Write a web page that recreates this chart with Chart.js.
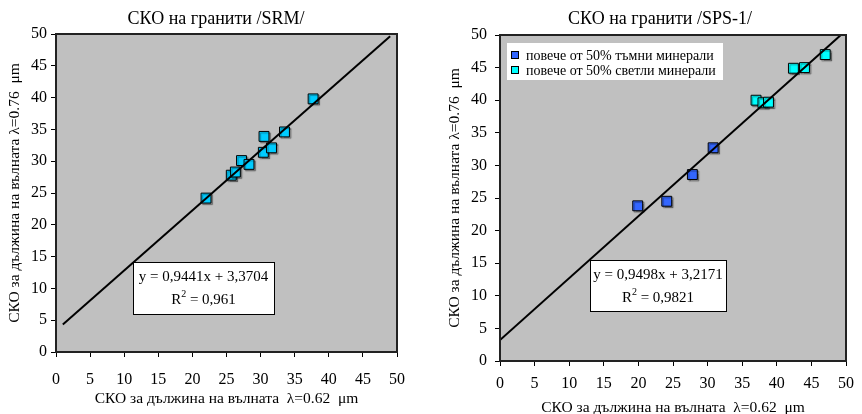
<!DOCTYPE html>
<html>
<head>
<meta charset="utf-8">
<script src="https://cdn.jsdelivr.net/npm/chart.js@4"></script>
<style>
  html, body { margin: 0; padding: 0; background: #fff; overflow: hidden; }
  .panel { position: absolute; top: 0; width: 431px; height: 414px; }
</style>
</head>
<body>
<div class="panel" style="left:0"><canvas id="srm" width="431" height="414"></canvas></div>
<div class="panel" style="left:431px"><canvas id="sps" width="431" height="414"></canvas></div>
<script>
// СКО при 0.62 µm (x) и 0.76 µm (y)
const srmX = [22.0, 25.7, 26.3, 27.2, 28.3, 30.4, 30.5, 31.6, 33.5, 37.7];
const srmY = [24.2, 27.8, 28.3, 30.1, 29.5, 31.4, 33.9, 32.1, 34.6, 39.8];

const tumniX = [19.9, 24.1, 27.8, 30.8];
const tumniY = [23.8, 24.5, 28.6, 32.7];
const svetliX = [37.0, 38.0, 38.8, 42.4, 44.0, 47.0];
const svetliY = [40.0, 39.6, 39.7, 44.9, 45.0, 47.0];

// линеен тренд: наклон, отрез, R²
const fitSrm = [0.9441, 3.3704];
const fitSps = [0.9498, 3.2171];
const r2Srm = 0.961;
const r2Sps = 0.9821;
const fitSrmRange = [1, 49];
const fitSpsRange = [0, 49.26];

const axisTicks = [0, 5, 10, 15, 20, 25, 30, 35, 40, 45, 50];

const titles = ['СКО на гранити /SRM/', 'СКО на гранити /SPS-1/'];
const xTitle = 'СКО за дължина на вълната  λ=0.62  μm';
const yTitle = 'СКО за дължина на вълната λ=0.76  μm';
const seriesNames = ['повече от 50% тъмни минерали', 'повече от 50% светли минерали'];

const SERIF = "'Times New Roman', 'Liberation Serif', serif";
Chart.defaults.font.family = SERIF;
Chart.defaults.color = '#000';

function toPoints(xs, ys) {
  return xs.map((x, i) => ({x: x, y: ys[i]}));
}

function trendPoints(fit, range) {
  return range.map(x => ({x: x, y: fit[0] * x + fit[1]}));
}

function fmt(v, d) {
  return v.toFixed(d).replace('.', ',');
}

// сив фон на графичната област + рамка + сянка на маркерите
const plotArea = {
  id: 'plotArea',
  beforeDraw(chart) {
    const {ctx, chartArea: a} = chart;
    ctx.save();
    ctx.fillStyle = '#c0c0c0';
    ctx.fillRect(a.left, a.top, a.width, a.height);
    ctx.restore();
  },
  beforeDatasetDraw(chart, args) {
    const ctx = chart.ctx;
    ctx.save();
    if (args.meta.type === 'scatter') {
      ctx.shadowColor = 'rgba(0,0,0,0.35)';
      ctx.shadowOffsetX = 1.5;
      ctx.shadowOffsetY = 1.5;
      ctx.shadowBlur = 1;
    }
  },
  afterDatasetDraw(chart) {
    chart.ctx.restore();
  },
  afterDraw(chart) {
    const {ctx, chartArea: a} = chart;
    ctx.save();
    ctx.strokeStyle = '#222';
    ctx.lineWidth = 2;
    ctx.strokeRect(a.left, a.top, a.width, a.height);
    ctx.restore();
  }
};

// заглавие над графиката
const caption = {
  id: 'caption',
  afterDraw(chart, args, opts) {
    const ctx = chart.ctx;
    ctx.save();
    ctx.font = '18px ' + SERIF;
    ctx.fillStyle = '#000';
    ctx.textAlign = 'center';
    ctx.textBaseline = 'alphabetic';
    ctx.fillText(opts.text, opts.cx, opts.y);
    ctx.restore();
  }
};

// каре с уравнението на тренда
const equationBox = {
  id: 'equationBox',
  afterDraw(chart, args, opts) {
    const {ctx, chartArea: a} = chart;
    const x = a.left + opts.dx, y = a.top + opts.dy;
    ctx.save();
    ctx.fillStyle = '#fff';
    ctx.fillRect(x, y, opts.w, opts.h);
    ctx.strokeStyle = '#000';
    ctx.lineWidth = 1;
    ctx.strokeRect(x + 0.5, y + 0.5, opts.w, opts.h);
    ctx.fillStyle = '#000';
    ctx.textBaseline = 'middle';
    ctx.font = '15px ' + SERIF;
    ctx.textAlign = 'center';
    const cx = x + opts.w / 2;
    ctx.fillText('y = ' + fmt(opts.fit[0], 4) + 'x + ' + fmt(opts.fit[1], 4), cx, y + 15);
    // R² с горен индекс
    const rest = ' = ' + String(opts.r2).replace('.', ',');
    ctx.textAlign = 'left';
    const wR = ctx.measureText('R').width;
    const wRest = ctx.measureText(rest).width;
    ctx.font = '10px ' + SERIF;
    const wSup = ctx.measureText('2').width;
    let sx = cx - (wR + wSup + wRest) / 2;
    const ly = y + 38;
    ctx.font = '15px ' + SERIF;
    ctx.fillText('R', sx, ly);
    ctx.font = '10px ' + SERIF;
    ctx.fillText('2', sx + wR, ly - 6);
    ctx.font = '15px ' + SERIF;
    ctx.fillText(rest, sx + wR + wSup, ly);
    ctx.restore();
  }
};

// легенда в горния ляв ъгъл на графичната област
const cornerLegend = {
  id: 'cornerLegend',
  afterDraw(chart, args, opts) {
    if (!opts.show) return;
    const {ctx, chartArea: a} = chart;
    ctx.save();
    ctx.fillStyle = '#fff';
    ctx.fillRect(a.left + opts.dx, a.top + opts.dy, opts.w, opts.h);
    ctx.font = '14px ' + SERIF;
    ctx.textBaseline = 'middle';
    ctx.textAlign = 'left';
    let row = 0;
    chart.data.datasets.forEach(ds => {
      if (!ds.label) return;
      const cy = a.top + opts.dy + 12 + row * 15;
      const bx = a.left + opts.dx + 4;
      ctx.fillStyle = ds.backgroundColor;
      ctx.fillRect(bx, cy - 4, 8, 8);
      ctx.strokeStyle = '#000';
      ctx.lineWidth = 1;
      ctx.strokeRect(bx + 0.5, cy - 3.5, 7, 7);
      ctx.fillStyle = '#000';
      ctx.fillText(ds.label, bx + 15, cy + 1);
      row++;
    });
    ctx.restore();
  }
};

function scatterSet(label, xs, ys, color) {
  return {
    type: 'scatter',
    label: label,
    data: toPoints(xs, ys),
    pointStyle: 'rect',
    pointRadius: 7,
    pointHoverRadius: 7,
    backgroundColor: color,
    borderColor: '#000',
    borderWidth: 1,
    order: 1
  };
}

function trendSet(fit, range) {
  return {
    type: 'line',
    data: trendPoints(fit, range),
    borderColor: '#000',
    borderWidth: 2,
    pointRadius: 0,
    fill: false,
    order: 0
  };
}

function makeChart(id, datasets, lay) {
  return new Chart(document.getElementById(id), {
    type: 'scatter',
    data: {datasets: datasets},
    options: {
      responsive: false,
      animation: false,
      layout: {padding: {right: lay.padRight, left: 0, bottom: 0, top: lay.padTop}},
      plugins: {
        legend: {display: false},
        tooltip: {enabled: false},
        title: {display: false},
        caption: lay.caption,
        equationBox: lay.eq,
        cornerLegend: lay.legend
      },
      scales: {
        x: {
          type: 'linear',
          min: 0, max: 50,
          afterBuildTicks: s => { s.ticks = axisTicks.map(v => ({value: v})); },
          ticks: {font: {size: 16}, padding: lay.xTickPad, color: '#000'},
          grid: {drawOnChartArea: false, tickLength: 5, color: '#000', tickWidth: 1},
          border: {color: '#000', width: 1},
          title: {display: true, text: xTitle, font: {size: 15.5}, color: '#000',
                  padding: {top: 0, bottom: lay.xTitlePad}},
          afterFit: s => { s.height = lay.xHeight; }
        },
        y: {
          type: 'linear',
          min: 0, max: 50,
          afterBuildTicks: s => { s.ticks = axisTicks.map(v => ({value: v})); },
          ticks: {font: {size: 16}, padding: lay.yTickPad, color: '#000'},
          grid: {drawOnChartArea: false, tickLength: 5, color: '#000', tickWidth: 1},
          border: {color: '#000', width: 1},
          title: {display: true, text: yTitle, font: {size: 15.5}, color: '#000',
                  padding: {top: lay.yTitlePad, bottom: 0}},
          afterFit: s => { s.width = lay.yWidth; }
        }
      }
    },
    plugins: [plotArea, caption, equationBox, cornerLegend]
  });
}

makeChart('srm', [
  scatterSet('', srmX, srmY, '#00ccff'),
  trendSet(fitSrm, fitSrmRange)
], {
  padTop: 34, padRight: 34,
  caption: {text: titles[0], cx: 216, y: 24},
  xHeight: 62, yWidth: 56, xTickPad: 13, yTickPad: 4, xTitlePad: 6, yTitlePad: 6,
  eq: {dx: 77, dy: 228, w: 141, h: 52, fit: fitSrm, r2: r2Srm},
  legend: {show: false}
});

makeChart('sps', [
  scatterSet(seriesNames[0], tumniX, tumniY, '#3366ff'),
  scatterSet(seriesNames[1], svetliX, svetliY, '#00ffff'),
  trendSet(fitSps, fitSpsRange)
], {
  padTop: 35, padRight: 14,
  caption: {text: titles[1], cx: 229, y: 24},
  xHeight: 53, yWidth: 69, xTickPad: 8, yTickPad: 8, xTitlePad: -3, yTitlePad: 15,
  eq: {dx: 90, dy: 225, w: 136, h: 51, fit: fitSps, r2: r2Sps},
  legend: {show: true, dx: 7, dy: 8, w: 216, h: 37}
});
</script>
</body>
</html>
